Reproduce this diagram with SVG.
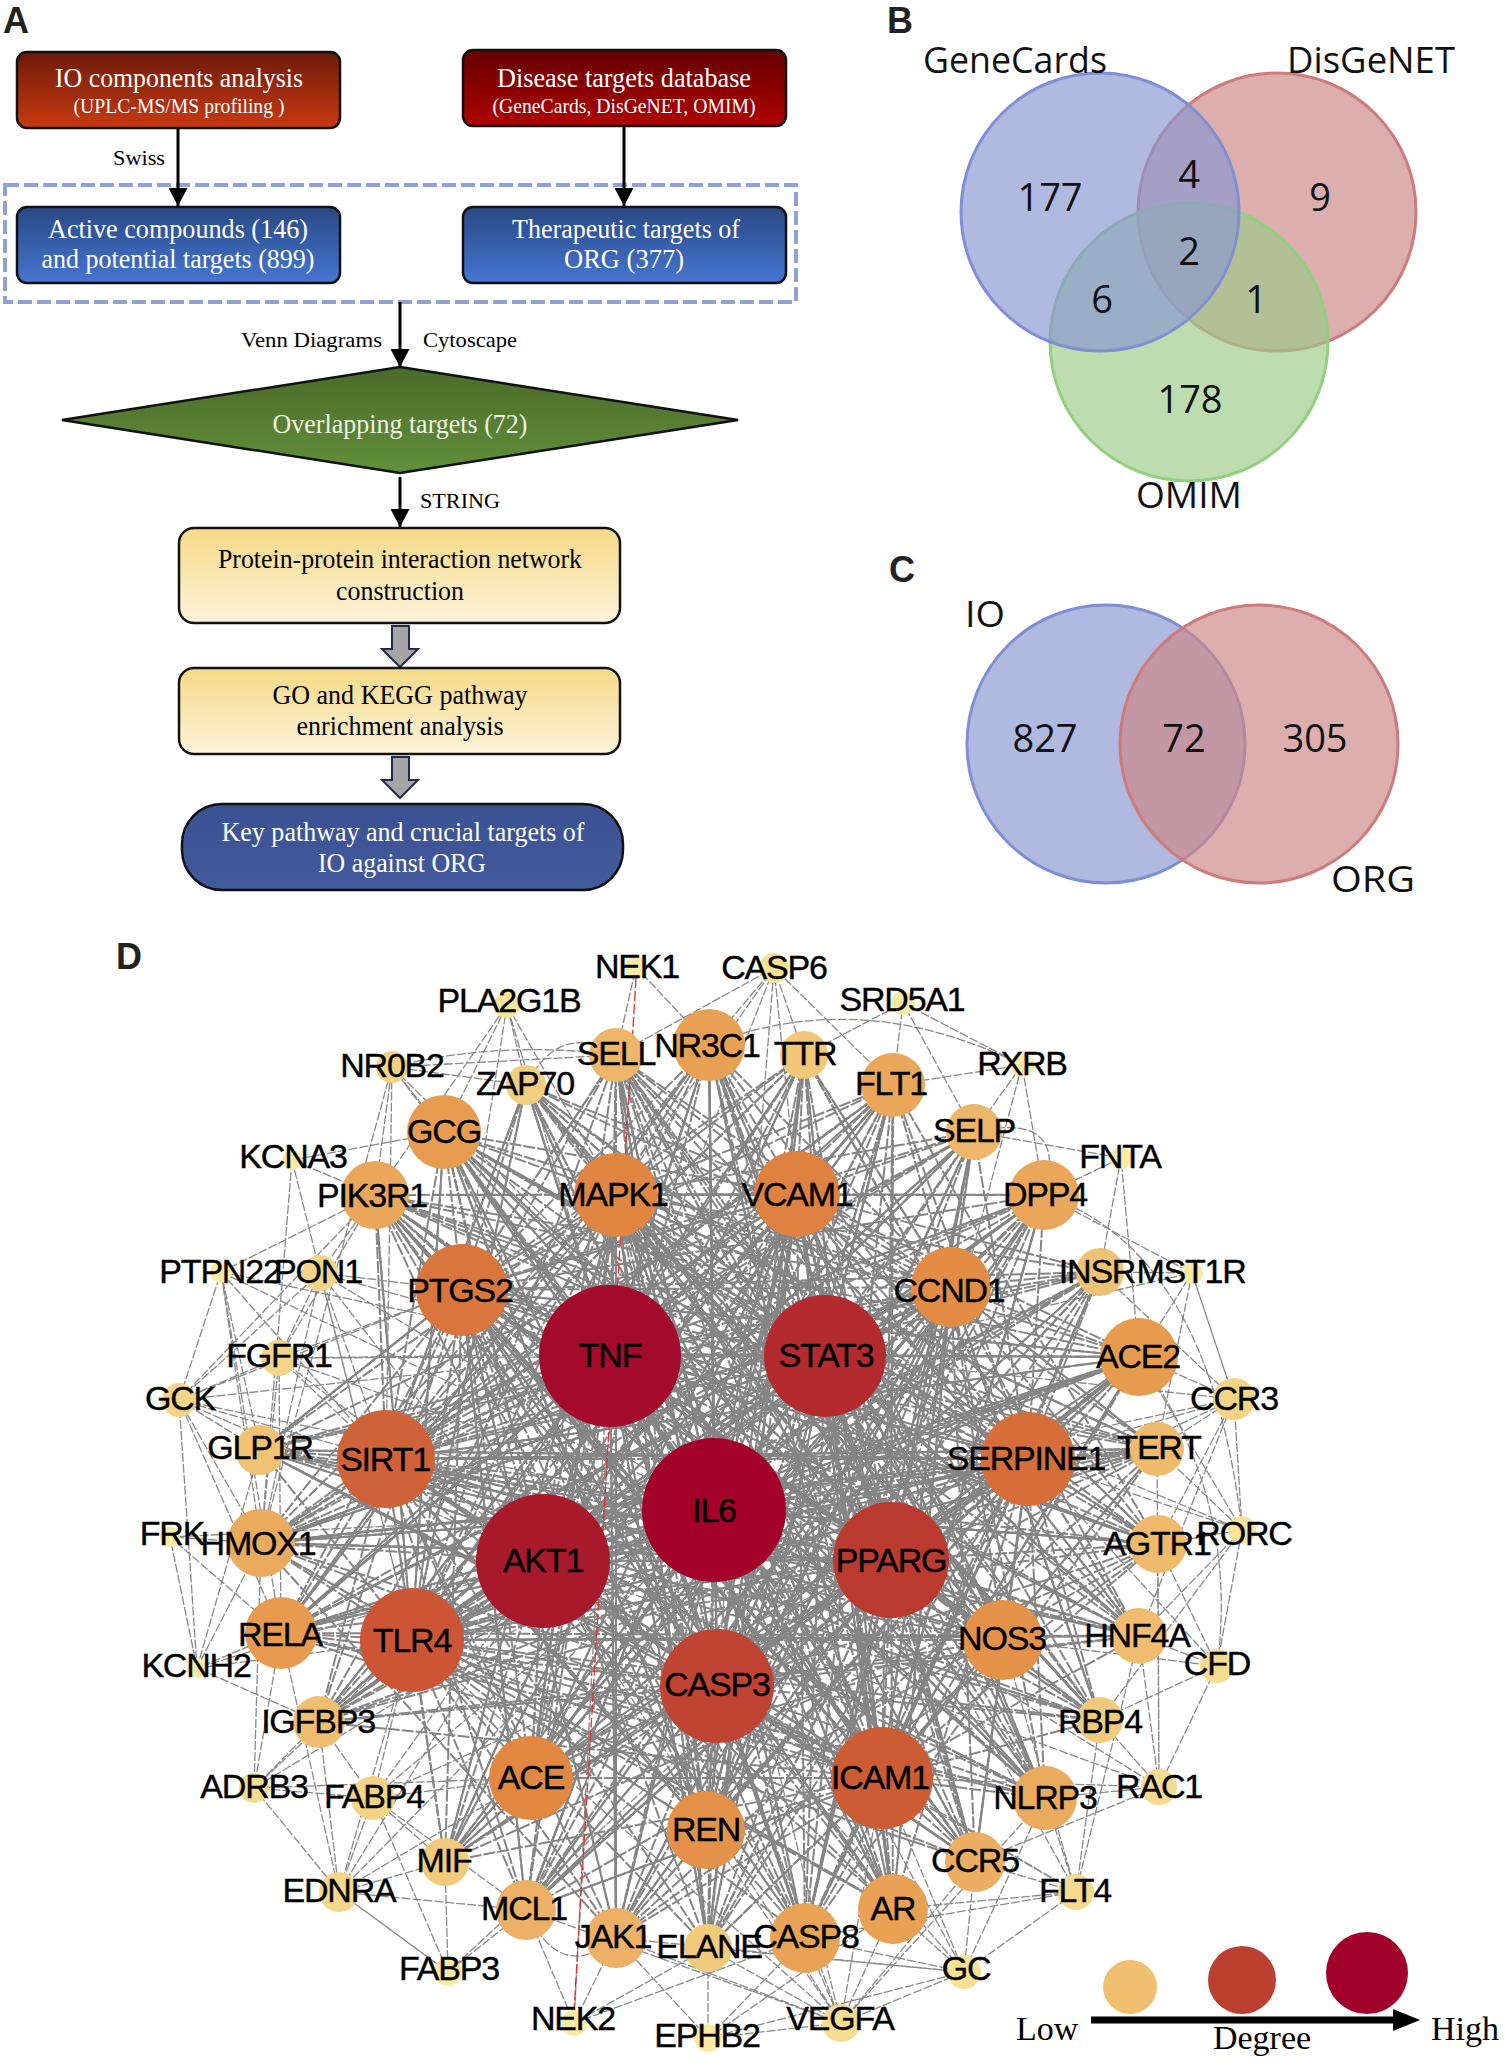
<svg xmlns="http://www.w3.org/2000/svg" width="1505" height="2066" viewBox="0 0 1505 2066">
<style>
.panel{font-family:"Liberation Sans",Arial,sans-serif;font-weight:bold;font-size:36px;fill:#222}
.fc{font-family:"Liberation Serif","Times New Roman",serif;text-anchor:middle;font-size:27px}
.fcs{font-family:"Liberation Serif","Times New Roman",serif;text-anchor:middle;font-size:21px}
.el{font-family:"Liberation Serif","Times New Roman",serif;font-size:22px;fill:#000}
.wt{fill:#fff}
.bk{fill:#000}
.box{stroke:#111;stroke-width:2.5}
.arr{stroke:#000;stroke-width:3;fill:none}
.blk{fill:#a6a6a6;stroke:#1e2b4d;stroke-width:2}
.vt{font-family:"Open Sans","Noto Sans",sans-serif;fill:#111;text-anchor:middle}
.vn{font-size:38px}
.vl{font-size:36px}
.edge{fill:none;stroke:#888;stroke-width:1.3;stroke-dasharray:9 2}
.core{stroke:#858585;stroke-width:2;stroke-dasharray:12 2}
.lbl{font-family:"Liberation Sans",Arial,sans-serif;font-size:34px;letter-spacing:-1.2px;text-anchor:middle;fill:#000;stroke:#000;stroke-width:0.4}
.lg{font-family:"Liberation Serif","Times New Roman",serif;font-size:34px;fill:#000}
</style>
<defs>
<linearGradient id="gRed1" x1="0" y1="0" x2="0" y2="1"><stop offset="0" stop-color="#6e1a0b"/><stop offset="1" stop-color="#c83a10"/></linearGradient>
<linearGradient id="gRed2" x1="0" y1="0" x2="0" y2="1"><stop offset="0" stop-color="#640000"/><stop offset="1" stop-color="#b00202"/></linearGradient>
<linearGradient id="gBlue" x1="0" y1="0" x2="0" y2="1"><stop offset="0" stop-color="#2a4884"/><stop offset="1" stop-color="#4576d2"/></linearGradient>
<linearGradient id="gGreen" x1="0" y1="0" x2="0" y2="1"><stop offset="0" stop-color="#4a6a2a"/><stop offset="1" stop-color="#62903a"/></linearGradient>
<linearGradient id="gYel" x1="0" y1="0" x2="0" y2="1"><stop offset="0" stop-color="#f6d986"/><stop offset="1" stop-color="#fcf4dc"/></linearGradient>
<linearGradient id="gNavy" x1="0" y1="0" x2="0" y2="1"><stop offset="0" stop-color="#3a5293"/><stop offset="1" stop-color="#42599c"/></linearGradient>
<marker id="ah" viewBox="0 0 18 19" refX="18" refY="9.5" markerWidth="18" markerHeight="19" markerUnits="userSpaceOnUse" orient="auto"><path d="M0 0L18 9.5L0 19z" fill="#000"/></marker>
</defs>
<rect width="1505" height="2066" fill="#fff"/>

<!-- Panel labels -->
<text class="panel" x="3" y="33">A</text>
<text class="panel" x="887" y="33">B</text>
<text class="panel" x="889" y="582">C</text>
<text class="panel" x="116" y="969">D</text>

<!-- Panel A flowchart -->
<g id="flow-connectors">
<rect x="5" y="185" width="791" height="117" fill="none" stroke="#8fa2d8" stroke-width="4" stroke-dasharray="14 5"/>
<line class="arr" x1="178" y1="128" x2="178" y2="206" marker-end="url(#ah)"/>
<line class="arr" x1="624" y1="126" x2="624" y2="206" marker-end="url(#ah)"/>
<line class="arr" x1="400" y1="302" x2="400" y2="367" marker-end="url(#ah)"/>
<line class="arr" x1="400" y1="477" x2="400" y2="527" marker-end="url(#ah)"/>
<path class="blk" d="M392 626H409V649H418L400 667L382 649H392Z"/>
<path class="blk" d="M392 757H409V780H418L400 798L382 780H392Z"/>
<text class="el" x="113" y="165" textLength="52" lengthAdjust="spacingAndGlyphs">Swiss</text>
<text class="el" x="241" y="347" textLength="141" lengthAdjust="spacingAndGlyphs">Venn Diagrams</text>
<text class="el" x="423" y="347" textLength="94" lengthAdjust="spacingAndGlyphs">Cytoscape</text>
<text class="el" x="420" y="508" textLength="80" lengthAdjust="spacingAndGlyphs">STRING</text>
</g>
<g id="fc-io">
<rect class="box" x="17" y="52" width="323" height="76" rx="10" fill="url(#gRed1)"/>
<text class="fc wt" x="179" y="87" textLength="248" lengthAdjust="spacingAndGlyphs">IO components analysis</text>
<text class="fcs wt" x="179" y="113" textLength="211" lengthAdjust="spacingAndGlyphs">(UPLC-MS/MS profiling )</text>
</g>
<g id="fc-disease">
<rect class="box" x="463" y="50" width="323" height="76" rx="10" fill="url(#gRed2)"/>
<text class="fc wt" x="624" y="87" textLength="254" lengthAdjust="spacingAndGlyphs">Disease targets database</text>
<text class="fcs wt" x="624" y="113" textLength="263" lengthAdjust="spacingAndGlyphs">(GeneCards, DisGeNET, OMIM)</text>
</g>
<g id="fc-active">
<rect class="box" x="17" y="207" width="323" height="76" rx="10" fill="url(#gBlue)"/>
<text class="fc wt" x="178" y="238" textLength="260" lengthAdjust="spacingAndGlyphs">Active compounds (146)</text>
<text class="fc wt" x="178" y="268" textLength="273" lengthAdjust="spacingAndGlyphs">and potential targets (899)</text>
</g>
<g id="fc-therapeutic">
<rect class="box" x="463" y="207" width="323" height="76" rx="10" fill="url(#gBlue)"/>
<text class="fc wt" x="626" y="238" textLength="228" lengthAdjust="spacingAndGlyphs">Therapeutic targets of</text>
<text class="fc wt" x="624" y="268" textLength="120" lengthAdjust="spacingAndGlyphs">ORG (377)</text>
</g>
<g id="fc-overlap">
<path d="M400 367L738 420L400 473L62 420Z" fill="url(#gGreen)" stroke="#111" stroke-width="2.5"/>
<text class="fc" x="400" y="433" fill="#eef4e4" textLength="255" lengthAdjust="spacingAndGlyphs">Overlapping targets (72)</text>
</g>
<g id="fc-ppi">
<rect class="box" x="179" y="528" width="441" height="95" rx="15" fill="url(#gYel)"/>
<text class="fc bk" x="400" y="568" textLength="364" lengthAdjust="spacingAndGlyphs">Protein-protein interaction network</text>
<text class="fc bk" x="400" y="600" textLength="128" lengthAdjust="spacingAndGlyphs">construction</text>
</g>
<g id="fc-go">
<rect class="box" x="179" y="668" width="441" height="86" rx="15" fill="url(#gYel)"/>
<text class="fc bk" x="400" y="704" textLength="255" lengthAdjust="spacingAndGlyphs">GO and KEGG pathway</text>
<text class="fc bk" x="400" y="735" textLength="207" lengthAdjust="spacingAndGlyphs">enrichment analysis</text>
</g>
<g id="fc-key">
<rect class="box" x="182" y="804" width="441" height="86" rx="40" fill="url(#gNavy)"/>
<text class="fc wt" x="403" y="841" textLength="363" lengthAdjust="spacingAndGlyphs">Key pathway and crucial targets of</text>
<text class="fc wt" x="402" y="872" textLength="168" lengthAdjust="spacingAndGlyphs">IO against ORG</text>
</g>

<!-- Panel B Venn -->
<g id="venn-b">
<circle cx="1277" cy="212" r="139" fill="#cc8686" fill-opacity="0.67" stroke="#cd7b7b" stroke-width="3"/>
<circle cx="1189" cy="342" r="139" fill="#9dcb89" fill-opacity="0.67" stroke="#92cf7e" stroke-width="3"/>
<circle cx="1100" cy="212" r="139" fill="#8997d1" fill-opacity="0.67" stroke="#7f8fd4" stroke-width="3"/>
<text class="vt vl" x="1015" y="73" textLength="184" lengthAdjust="spacingAndGlyphs">GeneCards</text>
<text class="vt vl" x="1371" y="73" textLength="168" lengthAdjust="spacingAndGlyphs">DisGeNET</text>
<text class="vt vl" x="1189" y="508" textLength="106" lengthAdjust="spacingAndGlyphs">OMIM</text>
<text class="vt vn" x="1050" y="211">177</text>
<text class="vt vn" x="1189" y="188">4</text>
<text class="vt vn" x="1320" y="211">9</text>
<text class="vt vn" x="1189" y="265">2</text>
<text class="vt vn" x="1102" y="313">6</text>
<text class="vt vn" x="1256" y="313">1</text>
<text class="vt vn" x="1190" y="413">178</text>
</g>

<!-- Panel C Venn -->
<g id="venn-c">
<circle cx="1106" cy="744" r="139" fill="#8997d1" fill-opacity="0.67" stroke="#7f8fd4" stroke-width="3"/>
<circle cx="1259" cy="744" r="139" fill="#cc8686" fill-opacity="0.67" stroke="#cd7b7b" stroke-width="3"/>
<text class="vt vl" x="985" y="627" textLength="40" lengthAdjust="spacingAndGlyphs">IO</text>
<text class="vt vl" x="1373" y="892" textLength="84" lengthAdjust="spacingAndGlyphs">ORG</text>
<text class="vt vn" x="1045" y="752">827</text>
<text class="vt vn" x="1184" y="752">72</text>
<text class="vt vn" x="1315" y="752">305</text>
</g>

<!-- Panel D network edges -->
<g id="connectors">
<path class="edge core" d="M714 1510L709 1045L717 1686L1044 1195L610 1354L893 1909L825 1356L281 1633L543 1561L1139 1357L462 1290L975 1862L386 1459L1003 1640L797 1194L526 1910L882 1778L375 1195L891 1560L616 1938L951 1287L261 1543L1028 1459L531 1778L616 1195L1157 1449L412 1640L893 1085L706 1830L444 1132L1158 1544L714 1510L616 1055L1045 1798L610 1354L805 1938L974 1132L319 1722L1139 1636L526 1085L1100 1720L260 1450L1100 1272L445 1862L804 1055L708 1948L825 1356"/>
<path class="edge core" d="M610 1354L1003 1640L714 1510L444 1132L543 1561L893 1085L825 1356L261 1543L891 1560L616 1055L717 1686L1139 1357L882 1778L375 1195L412 1640L1045 1798L386 1459L804 1055L1028 1459L526 1910L462 1290L975 1862L797 1194L281 1633L616 1195L1100 1720L951 1287L319 1722L610 1354L1158 1544L714 1510L531 1778L543 1561L974 1132L825 1356L708 1948L891 1560L709 1045L717 1686L260 1450L882 1778L1044 1195L412 1640L526 1085L386 1459L1139 1636L1028 1459L616 1938L462 1290L893 1909L797 1194L445 1862L616 1195L1157 1449L951 1287L706 1830L610 1354"/>
<path class="edge core" d="M714 1510L1139 1357L610 1354L281 1633L825 1356L1045 1798L543 1561L709 1045L891 1560L375 1195L717 1686L1100 1272L882 1778L444 1132L412 1640L893 1085L386 1459L975 1862L1028 1459L616 1055L462 1290L1158 1544L797 1194L531 1778L616 1195L893 1909L951 1287L261 1543L714 1510L805 1938L610 1354L1003 1640L825 1356L319 1722L543 1561L974 1132L891 1560L526 1910L717 1686L804 1055L882 1778L1044 1195L412 1640L1157 1449L386 1459L706 1830L1028 1459L260 1450L462 1290L1139 1636L797 1194L616 1938L616 1195L1100 1720L951 1287L445 1862L714 1510L526 1085L610 1354L708 1948"/>
<path class="edge core" d="M714 1510L610 1354L543 1561L825 1356L891 1560L717 1686L882 1778L412 1640L386 1459L1028 1459L462 1290L797 1194L616 1195L951 1287L714 1510L543 1561L891 1560L882 1778L386 1459L462 1290L616 1195L610 1354L825 1356L717 1686L412 1640L1028 1459L797 1194L951 1287L610 1354L891 1560L412 1640L462 1290L951 1287L543 1561L717 1686L1028 1459L616 1195L714 1510L825 1356L882 1778L797 1194L386 1459L543 1561L797 1194L717 1686L616 1195L891 1560L386 1459L825 1356L412 1640L714 1510L882 1778L462 1290L1028 1459L610 1354L717 1686L951 1287L386 1459L714 1510L462 1290L891 1560L1028 1459L543 1561L951 1287L825 1356L616 1195L882 1778L610 1354L412 1640L797 1194L714 1510L1028 1459L882 1778L543 1561L412 1640L951 1287L891 1560L616 1195L462 1290L717 1686L797 1194L825 1356L386 1459L610 1354"/>
<path class="edge core" d="M610 1354L891 1560L543 1561L1028 1459L717 1686L462 1290L825 1356L412 1640L951 1287L882 1778L616 1195L386 1459L797 1194L714 1510L412 1640L825 1356L543 1561L882 1778L1028 1459L386 1459L891 1560L797 1194L610 1354L951 1287L717 1686L714 1510L616 1195L543 1561L462 1290L882 1778L951 1287L412 1640L891 1560L825 1356L797 1194L462 1290L714 1510L386 1459L717 1686L610 1354L1028 1459L412 1640L616 1195L825 1356L951 1287"/>
<path class="edge core" d="M882 1778L444 1132L1028 1459L281 1633L797 1194L1045 1798L386 1459L1139 1357L717 1686L709 1045L543 1561L893 1085L412 1640L1044 1195L714 1510L261 1543L825 1356L531 1778L951 1287L616 1938L610 1354L1003 1640L462 1290L893 1909L616 1195L975 1862L891 1560L375 1195L882 1778L1157 1449L386 1459L706 1830L797 1194L526 1910L1028 1459L805 1938L543 1561L974 1132L717 1686L616 1055L714 1510L1158 1544L610 1354L319 1722L825 1356L1139 1636L412 1640L804 1055L951 1287L445 1862L891 1560L260 1450L462 1290L1100 1720L616 1195L708 1948L882 1778L526 1085L714 1510L1100 1272L543 1561L444 1132L825 1356L893 1909L610 1354L1045 1798L797 1194L281 1633L1028 1459L975 1862L386 1459L1003 1640L616 1195L531 1778L717 1686L893 1085L891 1560L261 1543L951 1287L706 1830L412 1640L1139 1357L882 1778"/>
<path class="edge core" d="M1003 1640L531 1778L1139 1357L281 1633L893 1085L706 1830L444 1132L1045 1798L375 1195L975 1862L709 1045L893 1909L261 1543L1044 1195L526 1910L1158 1544L616 1938L1157 1449L805 1938L974 1132L319 1722L1100 1272L445 1862L804 1055L708 1948L616 1055L1100 1720L260 1450L1139 1636L526 1085L1003 1640L444 1132L706 1830L1139 1357L531 1778L893 1085L281 1633L709 1045L1045 1798L616 1195L975 1862L375 1195L893 1909L797 1194L526 1910L1044 1195L616 1938L261 1543L1157 1449L319 1722L974 1132L805 1938L1100 1272L708 1948L804 1055L445 1862L1158 1544L526 1085L1100 1720L616 1055L1139 1636L260 1450L1003 1640"/>
<path class="edge core" d="M714 1510L531 1778L610 1354L706 1830L714 1510L1003 1640L610 1354L1139 1357L714 1510L444 1132L610 1354L709 1045L714 1510L281 1633L610 1354L893 1909L714 1510L805 1938L610 1354L1044 1195L714 1510L375 1195L610 1354L261 1543L714 1510L893 1085L610 1354L1045 1798L714 1510L975 1862L610 1354L526 1910L714 1510L616 1938L610 1354L974 1132L714 1510L616 1055L610 1354L1157 1449L714 1510L1158 1544L610 1354L1139 1636L714 1510L319 1722L610 1354L260 1450L714 1510L1100 1272L610 1354L804 1055L714 1510L1100 1720L610 1354L445 1862L714 1510L708 1948L610 1354L526 1085L714 1510"/>
<path class="edge core" d="M543 1561L709 1045L825 1356L531 1778L543 1561L1003 1640L825 1356L444 1132L543 1561L1139 1357L825 1356L281 1633L543 1561L893 1085L825 1356L893 1909L543 1561L805 1938L825 1356L375 1195L543 1561L1044 1195L825 1356L261 1543L543 1561L975 1862L825 1356L706 1830L543 1561L1157 1449L825 1356L616 1055L543 1561L804 1055L825 1356L319 1722L543 1561L1100 1720L825 1356L526 1910M891 1560L444 1132L717 1686L709 1045L891 1560L281 1633L717 1686L1139 1357L891 1560L375 1195L717 1686L893 1085L891 1560L261 1543L717 1686L1044 1195L891 1560L531 1778L717 1686L616 1055L891 1560L526 1910L717 1686L260 1450L891 1560L616 1938L717 1686L1157 1449L891 1560L805 1938L717 1686L974 1132"/>
<path class="edge core" d="M882 1778L531 1778L412 1640L706 1830L882 1778L1003 1640L412 1640L1139 1357L882 1778L444 1132L412 1640L709 1045L882 1778L281 1633L412 1640L893 1909L882 1778L805 1938L412 1640L1044 1195L882 1778L375 1195L412 1640L261 1543L882 1778L893 1085L412 1640L1045 1798L882 1778L975 1862L412 1640L526 1910L882 1778L616 1938L412 1640L974 1132L882 1778L616 1055L412 1640L1157 1449L882 1778L1158 1544L412 1640L1139 1636L882 1778L319 1722L412 1640L260 1450L882 1778L1100 1272L412 1640L804 1055L882 1778L1100 1720L412 1640L445 1862L882 1778L708 1948L412 1640L526 1085L882 1778"/>
<path class="edge core" d="M386 1459L531 1778L1028 1459L706 1830L386 1459L1003 1640L1028 1459L1139 1357L386 1459L444 1132L1028 1459L709 1045L386 1459L281 1633L1028 1459L893 1909L386 1459L805 1938L1028 1459L1044 1195L386 1459L375 1195L1028 1459L261 1543L386 1459L893 1085L1028 1459L1045 1798L386 1459L975 1862L1028 1459L526 1910L386 1459L616 1938L1028 1459L974 1132L386 1459L616 1055L1028 1459L1157 1449L386 1459L1158 1544L1028 1459L1139 1636L386 1459L319 1722L1028 1459L260 1450L386 1459L1100 1272L1028 1459L804 1055L386 1459L1100 1720L1028 1459L445 1862L386 1459L708 1948L1028 1459L526 1085L386 1459"/>
<path class="edge core" d="M462 1290L531 1778L951 1287L706 1830L462 1290L1003 1640L951 1287L1139 1357L462 1290L444 1132L951 1287L709 1045L462 1290L281 1633L951 1287L893 1909L462 1290L805 1938L951 1287L1044 1195L462 1290L375 1195L951 1287L261 1543L462 1290L893 1085L951 1287L1045 1798L462 1290L975 1862L951 1287L526 1910L462 1290L616 1938L951 1287L974 1132L462 1290L616 1055L951 1287L1157 1449L462 1290L1158 1544L951 1287L1139 1636L462 1290L319 1722L951 1287L260 1450L462 1290L1100 1272L951 1287L804 1055L462 1290L1100 1720L951 1287L445 1862L462 1290L708 1948L951 1287L526 1085L462 1290"/>
<path class="edge core" d="M797 1194L531 1778L616 1195L706 1830L797 1194L1003 1640L616 1195L1139 1357L797 1194L444 1132L616 1195L709 1045L797 1194L281 1633L616 1195L893 1909L797 1194L805 1938L616 1195L1044 1195L797 1194L375 1195L616 1195L261 1543L797 1194L893 1085L616 1195L1045 1798L797 1194L975 1862L616 1195L526 1910L797 1194L616 1938L616 1195L974 1132L797 1194L616 1055L616 1195L1157 1449L797 1194L1158 1544L616 1195L1139 1636L797 1194L319 1722L616 1195L260 1450L797 1194L1100 1272L616 1195L804 1055L797 1194L1100 1720L616 1195L445 1862L797 1194L708 1948L616 1195L526 1085L797 1194"/>
<path class="edge core" d="M891 1560L706 1830L717 1686L1003 1640L891 1560L1139 1357L717 1686L444 1132L891 1560L893 1909L717 1686L805 1938L891 1560L1045 1798L717 1686L975 1862L891 1560L974 1132L717 1686L1158 1544L891 1560L1139 1636L717 1686L319 1722L891 1560L1100 1272L717 1686L804 1055L891 1560L1100 1720L717 1686L445 1862L891 1560L708 1948L717 1686L526 1085L891 1560"/>
<path class="edge core" d="M531 1778L1044 1195L706 1830L444 1132L1003 1640L375 1195L1139 1357L281 1633L709 1045L893 1909L261 1543L893 1085L805 1938L444 1132L1045 1798L281 1633L975 1862L375 1195L1157 1449L261 1543L974 1132L706 1830L616 1055L1003 1640L709 1045L531 1778L893 1085L1158 1544L375 1195L805 1938L1139 1357L526 1910L1044 1195L281 1633L1139 1636L444 1132L975 1862L616 1055L893 1909L709 1045L1045 1798"/>
<path class="edge" d="M616 1055L636 967L709 1045M616 1055L774 968L709 1045M804 1055L774 968L616 1195M797 1194L774 968L717 1686M893 1085L774 968L543 1561M444 1132L507 1005L526 1085M375 1195L507 1005L462 1290M610 1354L507 1005L616 1195M444 1132L392 1067L375 1195M526 1085L392 1067L616 1055M891 1560L392 1067L261 1543M610 1354L392 1067L386 1459M444 1132L292 1160L412 1640M261 1543L292 1160L375 1195M179 1400L221 1272L260 1450M386 1459L221 1272L610 1354M714 1510L221 1272L281 1633M375 1195L221 1272L261 1543M375 1195L320 1273L462 1290M610 1354L320 1273L179 1400M261 1543L320 1273L386 1459M714 1510L320 1273L279 1358M543 1561L320 1273L412 1640M375 1195L279 1358L386 1459M610 1354L279 1358L543 1561M714 1510L279 1358L261 1543M179 1400L279 1358L462 1290M825 1356L279 1358L281 1633M260 1450L179 1400L261 1543M386 1459L179 1400L610 1354M543 1561L179 1400L197 1668M375 1195L179 1400L714 1510M462 1290L179 1400L281 1633M261 1543L170 1537L281 1633M714 1510L170 1537L197 1668M281 1633L197 1668L261 1543M319 1722L197 1668L260 1450M412 1640L197 1668L543 1561"/>
<path class="edge" d="M319 1722L254 1788L373 1798M281 1633L254 1788L531 1778M714 1510L254 1788L412 1640M261 1543L254 1788L339 1892M445 1862L373 1798L339 1892M531 1778L373 1798L412 1640M714 1510L373 1798L543 1561M891 1560L373 1798L319 1722M448 1972L373 1798L526 1910M445 1862L339 1892L373 1798M531 1778L339 1892L526 1910M412 1640L339 1892L543 1561M714 1510L339 1892L448 1972M319 1722L339 1892L281 1633M445 1862L448 1972L526 1910M339 1892L448 1972L891 1560M708 1948L708 2038L805 1938M893 1909L708 2038L964 1972M841 2023L708 2038L616 1938M805 1938L841 2023L893 1909M708 1948L841 2023L964 1972M616 1938L841 2023L714 1510M717 1686L841 2023L543 1561M526 1910L841 2023L706 1830M882 1778L841 2023L975 1862M412 1640L841 2023L1045 1798M893 1909L964 1972L975 1862M1076 1892L964 1972L805 1938M882 1778L964 1972L1045 1798M616 1938L964 1972L717 1686M708 1948L964 1972L714 1510M975 1862L1076 1892L1045 1798M1100 1720L1076 1892L893 1909M882 1778L1076 1892L717 1686M1003 1640L1076 1892L1139 1636M805 1938L1076 1892L891 1560M616 1938L574 2023L708 1948M526 1910L574 2023L805 1938M616 1195L574 2023"/>
<path class="edge" d="M1045 1798L1159 1787L1100 1720M1139 1636L1159 1787L1157 1449M1217 1666L1159 1787L882 1778M543 1561L1159 1787L975 1862M1158 1544L1159 1787L714 1510M1139 1636L1217 1666L1100 1720M1158 1544L1217 1666L1003 1640M1242 1530L1217 1666L1028 1459M1158 1544L1242 1530L1157 1449M1234 1399L1242 1530L1139 1636M1028 1459L1242 1530L825 1356M1139 1357L1242 1530L1100 1720M1139 1357L1234 1399L1157 1449M1192 1273L1234 1399L1158 1544M1028 1459L1234 1399L825 1356M714 1510L1234 1399L1100 1272M891 1560L1234 1399L1139 1636M1100 1272L1192 1273L1139 1357M1044 1195L1192 1273L1234 1399M825 1356L1192 1273L1157 1449M1044 1195L1121 1158L974 1132M1100 1272L1121 1158L1139 1357M974 1132L1022 1065L893 1085M1044 1195L1022 1065L891 1560M893 1085L903 1003L974 1132M804 1055L903 1003L1022 1065"/>
<path class="edge" d="M709 1045Q860 985 1022 1065M974 1132Q1070 1110 1044 1195M616 1055Q560 1020 526 1085M1044 1195Q1210 1250 1242 1530M526 1910Q560 1985 616 1938M392 1067Q500 1040 616 1055M1139 1357Q1240 1500 1217 1666"/>
<line x1="636" y1="978" x2="574" y2="2012" stroke="#e3302a" stroke-width="1.3" stroke-dasharray="10 3"/>
</g>

<!-- Panel D nodes -->
<g id="nodes" class="lbl">
<g id="node-IL6"><circle cx="714" cy="1510" r="72" fill="#a3002a" stroke="none"/><text x="714" y="1522">IL6</text></g>
<g id="node-TNF"><circle cx="610" cy="1356" r="71" fill="#a30a2b" stroke="none"/><text x="610" y="1367">TNF</text></g>
<g id="node-AKT1"><circle cx="543" cy="1561" r="67" fill="#a8192c" stroke="none"/><text x="543" y="1572">AKT1</text></g>
<g id="node-STAT3"><circle cx="825" cy="1356" r="61" fill="#b42b2f" stroke="none"/><text x="826" y="1367">STAT3</text></g>
<g id="node-PPARG"><circle cx="891" cy="1560" r="58" fill="#bb3a30" stroke="none"/><text x="891" y="1572">PPARG</text></g>
<g id="node-CASP3"><circle cx="717" cy="1686" r="57" fill="#c04433" stroke="none"/><text x="717" y="1696">CASP3</text></g>
<g id="node-ICAM1"><circle cx="882" cy="1778" r="51" fill="#cd5c35" stroke="none"/><text x="880" y="1789">ICAM1</text></g>
<g id="node-TLR4"><circle cx="412" cy="1640" r="52" fill="#cb5535" stroke="none"/><text x="412" y="1652">TLR4</text></g>
<g id="node-SIRT1"><circle cx="386" cy="1459" r="49" fill="#d0623a" stroke="none"/><text x="385" y="1471">SIRT1</text></g>
<g id="node-SERPINE1"><circle cx="1028" cy="1459" r="47" fill="#d66e3b" stroke="none"/><text x="1026" y="1470">SERPINE1</text></g>
<g id="node-PTGS2"><circle cx="462" cy="1290" r="46" fill="#d8763d" stroke="none"/><text x="460" y="1302">PTGS2</text></g>
<g id="node-VCAM1"><circle cx="797" cy="1194" r="43" fill="#df8140" stroke="none"/><text x="797" y="1206">VCAM1</text></g>
<g id="node-MAPK1"><circle cx="616" cy="1195" r="42" fill="#e08643" stroke="none"/><text x="613" y="1206">MAPK1</text></g>
<g id="node-CCND1"><circle cx="951" cy="1287" r="40" fill="#e28c46" stroke="none"/><text x="949" y="1302">CCND1</text></g>
<g id="node-ACE"><circle cx="531" cy="1778" r="42" fill="#e18742" stroke="none"/><text x="531" y="1789">ACE</text></g>
<g id="node-REN"><circle cx="706" cy="1830" r="39" fill="#e4924a" stroke="none"/><text x="706" y="1841">REN</text></g>
<g id="node-NOS3"><circle cx="1003" cy="1640" r="40" fill="#e4924a" stroke="none"/><text x="1002" y="1650">NOS3</text></g>
<g id="node-ACE2"><circle cx="1139" cy="1357" r="39" fill="#e79b4f" stroke="none"/><text x="1138" y="1368">ACE2</text></g>
<g id="node-GCG"><circle cx="444" cy="1132" r="37" fill="#e89c51" stroke="none"/><text x="444" y="1143">GCG</text></g>
<g id="node-NR3C1"><circle cx="709" cy="1045" r="36" fill="#e8a055" stroke="none"/><text x="707" y="1057">NR3C1</text></g>
<g id="node-RELA"><circle cx="281" cy="1633" r="36" fill="#e89b4f" stroke="none"/><text x="280" y="1646">RELA</text></g>
<g id="node-AR"><circle cx="893" cy="1909" r="35" fill="#e9a156" stroke="none"/><text x="893" y="1920">AR</text></g>
<g id="node-CASP8"><circle cx="805" cy="1938" r="35" fill="#e9a357" stroke="none"/><text x="806" y="1948">CASP8</text></g>
<g id="node-DPP4"><circle cx="1044" cy="1195" r="35" fill="#eaa75b" stroke="none"/><text x="1045" y="1206">DPP4</text></g>
<g id="node-PIK3R1"><circle cx="375" cy="1195" r="34" fill="#eaa75b" stroke="none"/><text x="372" y="1207">PIK3R1</text></g>
<g id="node-HMOX1"><circle cx="261" cy="1543" r="34" fill="#ebab5f" stroke="none"/><text x="258" y="1555">HMOX1</text></g>
<g id="node-FLT1"><circle cx="893" cy="1085" r="32" fill="#eaa75b" stroke="none"/><text x="891" y="1095">FLT1</text></g>
<g id="node-NLRP3"><circle cx="1045" cy="1798" r="32" fill="#ebab5f" stroke="none"/><text x="1045" y="1809">NLRP3</text></g>
<g id="node-CCR5"><circle cx="975" cy="1862" r="30" fill="#ecae62" stroke="none"/><text x="975" y="1872">CCR5</text></g>
<g id="node-MCL1"><circle cx="526" cy="1910" r="30" fill="#ecb166" stroke="none"/><text x="524" y="1920">MCL1</text></g>
<g id="node-JAK1"><circle cx="616" cy="1938" r="30" fill="#ecb166" stroke="none"/><text x="613" y="1948">JAK1</text></g>
<g id="node-SELP"><circle cx="974" cy="1132" r="28" fill="#eeb66a" stroke="none"/><text x="974" y="1142">SELP</text></g>
<g id="node-SELL"><circle cx="616" cy="1055" r="27" fill="#eeb66a" stroke="none"/><text x="616" y="1065">SELL</text></g>
<g id="node-TERT"><circle cx="1157" cy="1449" r="27" fill="#f0ba6d" stroke="none"/><text x="1159" y="1459">TERT</text></g>
<g id="node-AGTR1"><circle cx="1158" cy="1544" r="29" fill="#f0ba6d" stroke="none"/><text x="1157" y="1555">AGTR1</text></g>
<g id="node-HNF4A"><circle cx="1139" cy="1636" r="28" fill="#f0bc6f" stroke="none"/><text x="1137" y="1647">HNF4A</text></g>
<g id="node-IGFBP3"><circle cx="319" cy="1722" r="26" fill="#f0be71" stroke="none"/><text x="318" y="1733">IGFBP3</text></g>
<g id="node-GLP1R"><circle cx="260" cy="1450" r="25" fill="#f0c273" stroke="none"/><text x="260" y="1459">GLP1R</text></g>
<g id="node-INSR"><circle cx="1100" cy="1272" r="24" fill="#f0c273" stroke="none"/><text x="1097" y="1283">INSR</text></g>
<g id="node-TTR"><circle cx="804" cy="1055" r="24" fill="#f2c878" stroke="none"/><text x="805" y="1065">TTR</text></g>
<g id="node-RBP4"><circle cx="1100" cy="1720" r="23" fill="#f2ca7c" stroke="none"/><text x="1100" y="1733">RBP4</text></g>
<g id="node-MIF"><circle cx="445" cy="1862" r="24" fill="#f2ca7c" stroke="none"/><text x="444" y="1872">MIF</text></g>
<g id="node-ELANE"><circle cx="708" cy="1948" r="24" fill="#f2ca7c" stroke="none"/><text x="709" y="1958">ELANE</text></g>
<g id="node-ZAP70"><circle cx="526" cy="1085" r="20" fill="#f2ce81" stroke="none"/><text x="525" y="1095">ZAP70</text></g>
<g id="node-FABP4"><circle cx="373" cy="1798" r="22" fill="#f4d286" stroke="none"/><text x="374" y="1808">FABP4</text></g>
<g id="node-CCR3"><circle cx="1234" cy="1399" r="21" fill="#f4d286" stroke="none"/><text x="1234" y="1410">CCR3</text></g>
<g id="node-NR0B2"><circle cx="392" cy="1067" r="16" fill="#f4d286" stroke="none"/><text x="392" y="1077">NR0B2</text></g>
<g id="node-PON1"><circle cx="320" cy="1273" r="18" fill="#f4d489" stroke="none"/><text x="318" y="1283">PON1</text></g>
<g id="node-FGFR1"><circle cx="279" cy="1358" r="18" fill="#f4d489" stroke="none"/><text x="279" y="1367">FGFR1</text></g>
<g id="node-GCK"><circle cx="179" cy="1400" r="17" fill="#f4d489" stroke="none"/><text x="180" y="1410">GCK</text></g>
<g id="node-EDNRA"><circle cx="339" cy="1892" r="20" fill="#f4d88b" stroke="none"/><text x="339" y="1902">EDNRA</text></g>
<g id="node-RAC1"><circle cx="1159" cy="1787" r="18" fill="#f6da8e" stroke="none"/><text x="1159" y="1798">RAC1</text></g>
<g id="node-FLT4"><circle cx="1076" cy="1892" r="18" fill="#f6da8e" stroke="none"/><text x="1075" y="1902">FLT4</text></g>
<g id="node-VEGFA"><circle cx="841" cy="2023" r="19" fill="#f6dc91" stroke="none"/><text x="840" y="2030">VEGFA</text></g>
<g id="node-ADRB3"><circle cx="254" cy="1788" r="15" fill="#f6dc91" stroke="none"/><text x="254" y="1798">ADRB3</text></g>
<g id="node-CFD"><circle cx="1217" cy="1666" r="17" fill="#f6dc91" stroke="none"/><text x="1217" y="1675">CFD</text></g>
<g id="node-GC"><circle cx="964" cy="1972" r="17" fill="#f8e095" stroke="none"/><text x="966" y="1980">GC</text></g>
<g id="node-CASP6"><circle cx="774" cy="968" r="15" fill="#f8e095" stroke="none"/><text x="774" y="979">CASP6</text></g>
<g id="node-PLA2G1B"><circle cx="507" cy="1005" r="13" fill="#f8e49c" stroke="none"/><text x="509" y="1012">PLA2G1B</text></g>
<g id="node-RORC"><circle cx="1242" cy="1530" r="14" fill="#f8e49c" stroke="none"/><text x="1244" y="1545">RORC</text></g>
<g id="node-NEK1"><circle cx="636" cy="967" r="11" fill="#faeaa6" stroke="none"/><text x="637" y="978">NEK1</text></g>
<g id="node-NEK2"><circle cx="574" cy="2023" r="13" fill="#faeaa6" stroke="none"/><text x="573" y="2030">NEK2</text></g>
<g id="node-KCNA3"><circle cx="292" cy="1160" r="10" fill="#faeaa6" stroke="none"/><text x="293" y="1168">KCNA3</text></g>
<g id="node-PTPN22"><circle cx="221" cy="1272" r="11" fill="#faeaa6" stroke="none"/><text x="220" y="1283">PTPN22</text></g>
<g id="node-FRK"><circle cx="170" cy="1537" r="10" fill="#faeaa6" stroke="none"/><text x="172" y="1545">FRK</text></g>
<g id="node-KCNH2"><circle cx="197" cy="1668" r="10" fill="#faeaa6" stroke="none"/><text x="196" y="1677">KCNH2</text></g>
<g id="node-SRD5A1"><circle cx="903" cy="1003" r="12" fill="#faeaa6" stroke="none"/><text x="902" y="1011">SRD5A1</text></g>
<g id="node-RXRB"><circle cx="1022" cy="1065" r="12" fill="#faeaa6" stroke="none"/><text x="1022" y="1075">RXRB</text></g>
<g id="node-FNTA"><circle cx="1121" cy="1158" r="11" fill="#faeaa6" stroke="none"/><text x="1120" y="1168">FNTA</text></g>
<g id="node-MST1R"><circle cx="1192" cy="1273" r="11" fill="#faeaa6" stroke="none"/><text x="1191" y="1283">MST1R</text></g>
<g id="node-FABP3"><circle cx="448" cy="1972" r="14" fill="#faeaa6" stroke="none"/><text x="449" y="1980">FABP3</text></g>
<g id="node-EPHB2"><circle cx="708" cy="2038" r="14" fill="#faeaa6" stroke="none"/><text x="707" y="2047">EPHB2</text></g>
</g>

<!-- Legend -->
<g id="legend">
<circle cx="1130" cy="1987" r="27" fill="#f0c070"/>
<circle cx="1242" cy="1980" r="34" fill="#bb4030"/>
<circle cx="1367" cy="1973" r="41" fill="#a0002a"/>
<line x1="1091" y1="2020" x2="1396" y2="2020" stroke="#000" stroke-width="7"/>
<path d="M1393 2009L1420 2020L1393 2031Z" fill="#000"/>
<text class="lg" x="1016" y="2040">Low</text>
<text class="lg" x="1431" y="2040">High</text>
<text class="lg" x="1262" y="2049" text-anchor="middle">Degree</text>
</g>
</svg>
